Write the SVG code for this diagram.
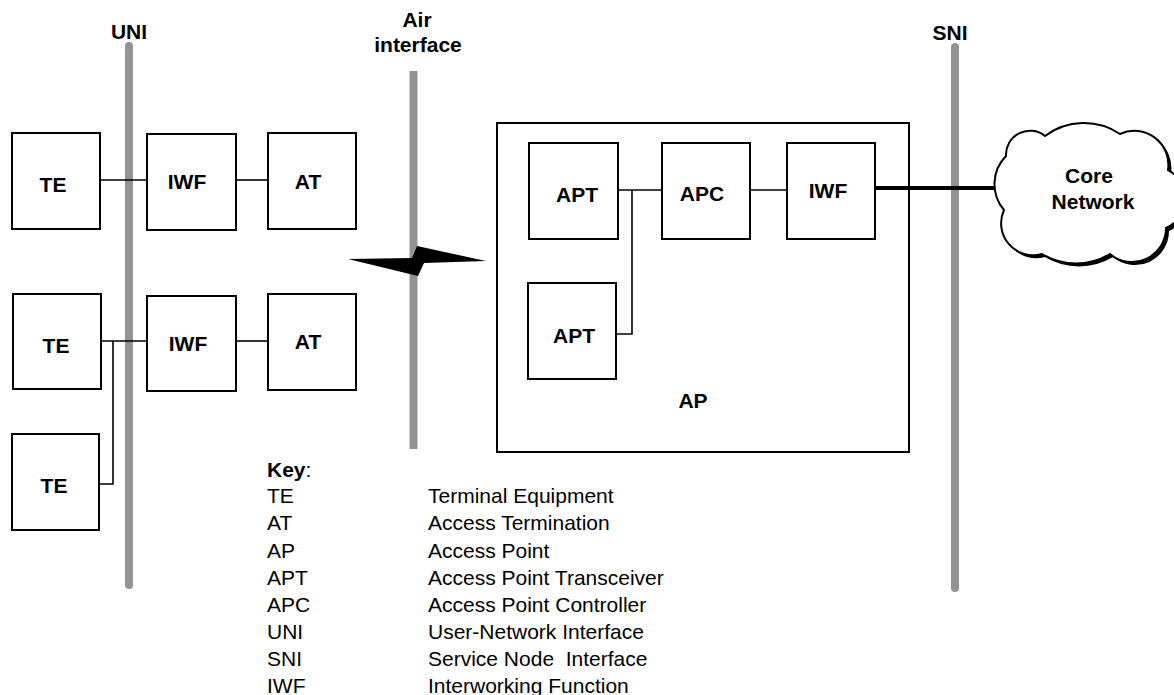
<svg xmlns="http://www.w3.org/2000/svg" width="1174" height="695" viewBox="0 0 1174 695">
<style>
.box{fill:#fff;stroke:#000;stroke-width:2}
.lbl{font-family:"Liberation Sans",Arial,sans-serif;font-size:21px;font-weight:bold;fill:#000;text-anchor:middle}
.key{font-family:"Liberation Sans",Arial,sans-serif;font-size:21px;fill:#000}
.bar{stroke:#939393;stroke-width:8;fill:none}
.con{stroke:#000;stroke-width:1.6;fill:none}
</style>
<rect width="1174" height="695" fill="#fff"/>
<g id="interfaces">
<line class="bar" x1="129" y1="46" x2="129" y2="585" stroke-linecap="round"/>
<line class="bar" x1="413.5" y1="71" x2="413.5" y2="449"/>
<line class="bar" x1="955" y1="47" x2="955" y2="588" stroke-linecap="round"/>
<text class="lbl" x="129" y="39">UNI</text>
<text class="lbl" x="417" y="27">Air</text>
<text class="lbl" x="418" y="52">interface</text>
<text class="lbl" x="950" y="40">SNI</text>
</g>
<g id="ap">
<rect class="box" x="497" y="123" width="412" height="329"/>
<text class="lbl" x="693" y="408">AP</text>
</g>
<g id="connectors">
<line class="con" x1="100" y1="180" x2="147" y2="180"/>
<line class="con" x1="236" y1="180" x2="268" y2="180"/>
<line class="con" x1="101" y1="341" x2="147" y2="341"/>
<line class="con" x1="236" y1="341" x2="268" y2="341"/>
<polyline class="con" points="113,341 113,484 99,484"/>
<line class="con" x1="618" y1="190" x2="662" y2="190"/>
<line class="con" x1="750" y1="190" x2="787" y2="190"/>
<polyline class="con" points="632,190 632,334 616,334"/>
<line x1="875" y1="188" x2="1000" y2="188" stroke="#000" stroke-width="4"/>
<polygon points="348,259 412,258 417,246 486,261 424,263 418,276" fill="#000"/>
</g>
<g id="te1"><rect class="box" x="12" y="133" width="88" height="96"/><text class="lbl" x="53" y="192">TE</text></g>
<g id="iwf1"><rect class="box" x="147" y="134" width="89" height="96"/><text class="lbl" x="187" y="189">IWF</text></g>
<g id="at1"><rect class="box" x="268" y="133" width="88" height="96"/><text class="lbl" x="308" y="189">AT</text></g>
<g id="te2"><rect class="box" x="13" y="294" width="88" height="95"/><text class="lbl" x="56" y="353">TE</text></g>
<g id="iwf2"><rect class="box" x="147" y="296" width="89" height="95"/><text class="lbl" x="188" y="351">IWF</text></g>
<g id="at2"><rect class="box" x="268" y="294" width="88" height="96"/><text class="lbl" x="308" y="349">AT</text></g>
<g id="te3"><rect class="box" x="12" y="434" width="87" height="96"/><text class="lbl" x="54" y="493">TE</text></g>
<g id="apt1"><rect class="box" x="529" y="143" width="89" height="96"/><text class="lbl" x="577" y="202">APT</text></g>
<g id="apc"><rect class="box" x="662" y="143" width="88" height="96"/><text class="lbl" x="702" y="201">APC</text></g>
<g id="iwf3"><rect class="box" x="787" y="143" width="88" height="96"/><text class="lbl" x="828" y="198">IWF</text></g>
<g id="apt2"><rect class="box" x="528" y="283" width="88" height="96"/><text class="lbl" x="574" y="343">APT</text></g>
<g id="core">
<path transform="translate(3,3)" fill="#000" d="M1004,210 A40,40 0 0 1 1006,156 A24,24 0 0 1 1045,136 A65,65 0 0 1 1120,134 A34,34 0 0 1 1168,170 A32,32 0 0 1 1166,228 A34,34 0 0 1 1110,254 A66,66 0 0 1 1042,254 A32,32 0 0 1 1004,210 Z"/>
<path fill="#fff" stroke="#000" stroke-width="2" d="M1004,210 A40,40 0 0 1 1006,156 A24,24 0 0 1 1045,136 A65,65 0 0 1 1120,134 A34,34 0 0 1 1168,170 A32,32 0 0 1 1166,228 A34,34 0 0 1 1110,254 A66,66 0 0 1 1042,254 A32,32 0 0 1 1004,210 Z"/>
<text class="lbl" x="1089" y="183">Core</text>
<text class="lbl" x="1093" y="209">Network</text>
</g>
<g id="legend">
<text class="key" x="267" y="477"><tspan font-weight="bold">Key</tspan>:</text>
<text class="key" x="267" y="503.3">TE</text><text class="key" x="428" y="503.3">Terminal Equipment</text>
<text class="key" x="267" y="530.4">AT</text><text class="key" x="428" y="530.4">Access Termination</text>
<text class="key" x="267" y="557.5">AP</text><text class="key" x="428" y="557.5">Access Point</text>
<text class="key" x="267" y="584.6">APT</text><text class="key" x="428" y="584.6">Access Point Transceiver</text>
<text class="key" x="267" y="611.7">APC</text><text class="key" x="428" y="611.7">Access Point Controller</text>
<text class="key" x="267" y="638.8">UNI</text><text class="key" x="428" y="638.8">User-Network Interface</text>
<text class="key" x="267" y="665.9">SNI</text><text class="key" x="428" y="665.9" xml:space="preserve">Service Node  Interface</text>
<text class="key" x="267" y="693">IWF</text><text class="key" x="428" y="693">Interworking Function</text>
</g>
</svg>
